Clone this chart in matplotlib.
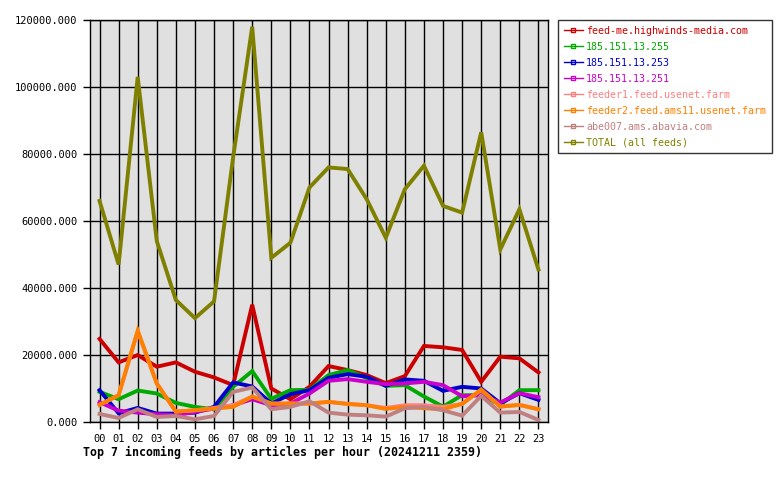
import matplotlib
matplotlib.use("Agg")
import matplotlib.pyplot as plt
from matplotlib.lines import Line2D
from matplotlib.ticker import FormatStrFormatter

hours = [f"{h:02d}" for h in range(24)]

feed_me = [24800, 17800, 20000, 16500, 17800, 15000, 13300, 11000, 35000, 10000, 6800, 10500,
           16700, 15500, 14000, 11600, 13700, 22700, 22300, 21500, 12000, 19500, 19000, 14800]
ip_255 = [9000, 6800, 9400, 8500, 5700, 4500, 3800, 10500, 15200, 6900, 9500, 9600,
          14000, 15500, 13100, 10800, 11000, 7600, 4600, 8000, 8000, 5100, 9500, 9500]
ip_253 = [9500, 2600, 4200, 2500, 2500, 2800, 4500, 11800, 10600, 5500, 8300, 9500,
          13200, 14300, 13500, 10800, 12700, 12300, 9300, 10500, 10000, 5600, 8600, 6600]
ip_251 = [5900, 3400, 2800, 2300, 2000, 3000, 4000, 5000, 6800, 5000, 5500, 8500,
          12300, 12800, 12000, 11300, 11500, 12000, 11000, 7700, 8000, 5800, 8600, 7400]
feeder1 = [5100, 8000, 27000, 11500, 3100, 3500, 4200, 5000, 7600, 5500, 5500, 5500,
           6000, 5400, 5000, 4200, 5000, 5000, 4500, 5400, 9600, 4600, 5100, 3800]
feeder2 = [5100, 8000, 27300, 11500, 3100, 3500, 4000, 4500, 7600, 5500, 5500, 5500,
           6000, 5400, 5000, 3900, 4500, 4100, 3800, 5400, 9700, 4600, 5100, 3800]
abe007 = [2400, 1200, 3800, 1500, 1800, 800, 1800, 9000, 10300, 3800, 4500, 6200,
          2800, 2200, 2000, 1600, 4100, 4500, 3500, 1900, 7800, 2800, 3000, 600]
total = [66000, 47000, 103000, 54000, 36400, 31000, 36000, 79000, 118000, 49000, 53500, 70000,
         76000, 75500, 66500, 55000, 69500, 76500, 64500, 62500, 86500, 51500, 63500, 45500]

labels = ["feed-me.highwinds-media.com", "185.151.13.255", "185.151.13.253", "185.151.13.251",
          "feeder1.feed.usenet.farm", "feeder2.feed.ams11.usenet.farm", "abe007.ams.abavia.com",
          "TOTAL (all feeds)"]
series = [feed_me, ip_255, ip_253, ip_251, feeder1, feeder2, abe007, total]
colors = ["#cc0000", "#00aa00", "#0000cc", "#cc00cc", "#ff8080", "#ff8000", "#c08080", "#808000"]

MONO = "DejaVu Sans Mono"

fig = plt.figure(figsize=(7.8, 4.8), dpi=100)
ax = fig.add_axes([90 / 780, 58 / 480, 458 / 780, 402 / 480])
ax.set_facecolor("#e0e0e0")

x = list(range(len(hours)))
for vals, col in zip(series, colors):
    ax.plot(x, vals, color=col, linewidth=2.8, solid_joinstyle="miter")

ax.set_xlim(-0.5, 23.5)
ax.set_ylim(0, 120000)
ax.set_xticks(x, hours)
ax.set_yticks(range(0, 120001, 20000))
ax.yaxis.set_major_formatter(FormatStrFormatter("%.3f"))
ax.grid(True, color="black", linewidth=1)
ax.set_axisbelow(True)
ax.tick_params(axis="both", direction="out", length=5, width=1, color="black",
               labelsize=7.5, pad=4)
for lbl in ax.get_xticklabels() + ax.get_yticklabels():
    lbl.set_fontfamily(MONO)
for sp in ax.spines.values():
    sp.set_linewidth(1)

handles = [Line2D([0], [0], color=c, linewidth=1, marker="s", markersize=3,
                  markerfacecolor="none", markeredgecolor=c) for c in colors]
leg = ax.legend(handles, labels, loc="upper left", bbox_to_anchor=(558 / 780, 1 - 20 / 480),
                bbox_transform=fig.transFigure, prop={"family": MONO, "size": 7.2},
                labelcolor=colors, frameon=True, fancybox=False, handlelength=1.9,
                handletextpad=0.35, labelspacing=0.6, borderpad=0.55, borderaxespad=0)
leg.get_frame().set_edgecolor("black")
leg.get_frame().set_linewidth(1)

fig.text(83 / 780, 1 - 452 / 480, "Top 7 incoming feeds by articles per hour (20241211 2359)",
         family=MONO, fontsize=8.4, fontweight="bold", va="center", ha="left")

fig.savefig("out.png", dpi=100)
